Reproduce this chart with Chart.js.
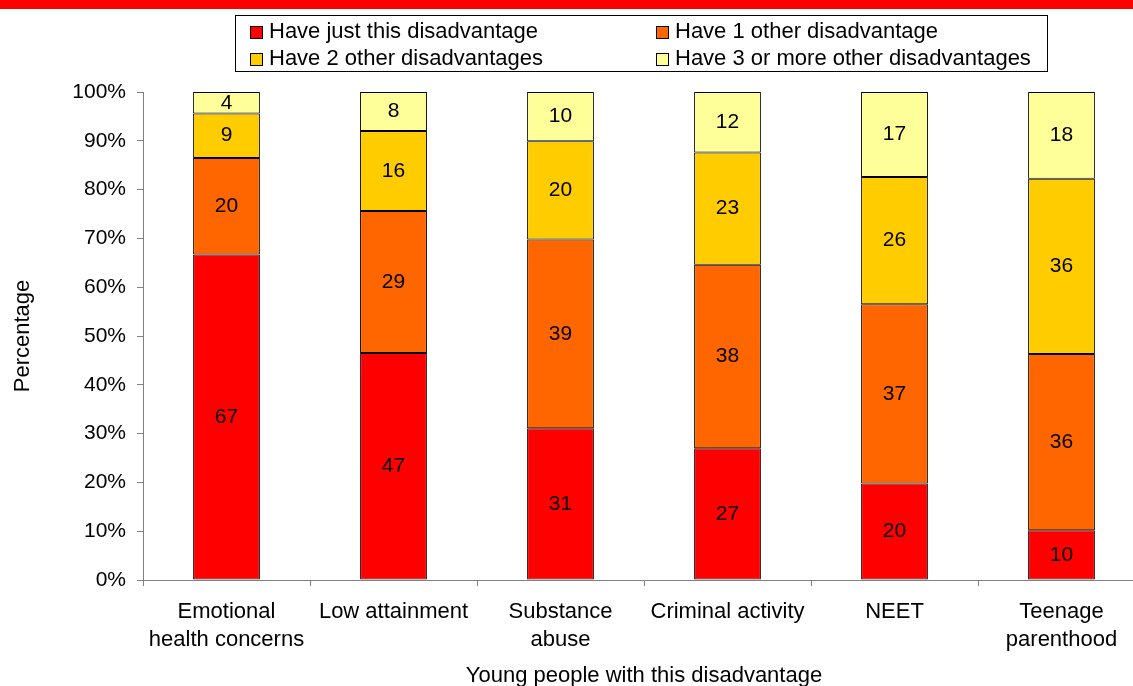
<!DOCTYPE html>
<html>
<head>
<meta charset="utf-8">
<script src="https://cdn.jsdelivr.net/npm/chart.js@4/dist/chart.umd.min.js"></script>
<style>
  html, body { margin: 0; padding: 0; background: #fff; overflow: hidden; width: 1133px; height: 686px; }
  #stripe { position: absolute; left: 0; top: 0; width: 1133px; height: 9px; background: #ff0000; }
  #wrap { position: absolute; left: 0; top: 0; }
  #legend { position: absolute; left: 235px; top: 15px; width: 813px; height: 57px; box-sizing: border-box;
            border: 1px solid #000; font-family: 'Liberation Sans', Arial, sans-serif; font-size: 22px; color: #000; }
  .item { position: absolute; white-space: nowrap; line-height: 26px; }
  .swatch { display: inline-block; width: 11px; height: 11px; border: 1px solid #000; vertical-align: -1px; margin-right: 6px; }
</style>
</head>
<body>
<div id="stripe"></div>
<div id="wrap"><canvas id="chart" width="1150" height="700"></canvas></div>
<div id="legend"></div>
<script>
const categories = [['Emotional', 'health concerns'], 'Low attainment', ['Substance', 'abuse'], 'Criminal activity', 'NEET', ['Teenage', 'parenthood']];
const seriesNames = ['Have just this disadvantage', 'Have 1 other disadvantage', 'Have 2 other disadvantages', 'Have 3 or more other disadvantages'];
// segment sizes; labels show them rounded
const justThis = [66.7, 46.5, 31.1, 27.0, 19.8, 10.2];
const oneOther = [19.8, 29.1, 38.7, 37.6, 36.7, 36.1];
const twoOther = [9.1, 16.4, 20.1, 23.0, 26.1, 35.9];
const threeOrMore = [4.4, 8.0, 10.1, 12.4, 17.4, 17.8];
const yTicks = [0, 10, 20, 30, 40, 50, 60, 70, 80, 90, 100];
const colours = ['#ff0000', '#ff6600', '#ffcc00', '#ffff99'];

const FONT = "'Liberation Sans', Arial, sans-serif";
const seriesValues = [justThis, oneOther, twoOther, threeOrMore];

// HTML legend, two columns
const legendEl = document.getElementById('legend');
const legendPos = [[14, 2], [420, 2], [14, 29], [420, 29]];
seriesNames.forEach((name, i) => {
    const d = document.createElement('div');
    d.className = 'item';
    d.style.left = legendPos[i][0] + 'px';
    d.style.top = legendPos[i][1] + 'px';
    d.innerHTML = '<span class="swatch" style="background:' + colours[i] + '"></span>' + name;
    legendEl.appendChild(d);
});

// value labels inside the stacked segments
const valueLabels = {
    id: 'valueLabels',
    afterDatasetsDraw(chart) {
        const ctx = chart.ctx;
        ctx.save();
        ctx.font = '21px ' + FONT;
        ctx.fillStyle = '#000';
        ctx.textAlign = 'center';
        ctx.textBaseline = 'middle';
        chart.data.datasets.forEach((ds, i) => {
            chart.getDatasetMeta(i).data.forEach((bar, j) => {
                ctx.fillText(String(Math.round(ds.data[j])), bar.x, (bar.y + bar.base) / 2);
            });
        });
        ctx.restore();
    }
};

new Chart(document.getElementById('chart'), {
    type: 'bar',
    data: {
        labels: categories,
        datasets: seriesNames.map((name, i) => ({
            label: name,
            data: seriesValues[i],
            backgroundColor: colours[i],
            borderColor: '#000',
            borderWidth: 1,
            borderSkipped: false,
            barPercentage: 0.4,
            categoryPercentage: 1
        }))
    },
    options: {
        responsive: false,
        animation: false,
        devicePixelRatio: 1,
        layout: { padding: { left: 0, top: 92, right: 5, bottom: 0 } },
        plugins: { legend: { display: false }, tooltip: { enabled: false } },
        scales: {
            x: {
                stacked: true,
                afterFit: s => { s.height = 120; },
                grid: { offset: true, drawOnChartArea: false, tickLength: 6, color: '#808080' },
                border: { color: '#808080' },
                ticks: { color: '#000', font: { family: FONT, size: 22, lineHeight: 1.27 }, padding: 12, maxRotation: 0, autoSkip: false },
                title: { display: true, text: 'Young people with this disadvantage', color: '#000',
                         font: { family: FONT, size: 22 }, padding: { top: 0, bottom: 11 } }
            },
            y: {
                stacked: true,
                min: 0,
                max: 100,
                afterFit: s => { s.width = 143; },
                afterBuildTicks: s => { s.ticks = yTicks.map(v => ({ value: v })); },
                grid: { drawOnChartArea: false, tickLength: 6, color: '#808080' },
                border: { color: '#808080' },
                ticks: { color: '#000', font: { family: FONT, size: 21 }, padding: 11, callback: v => v + '%' },
                title: { display: true, text: 'Percentage', color: '#000',
                         font: { family: FONT, size: 22 }, padding: { top: 10, bottom: 0 } }
            }
        }
    },
    plugins: [valueLabels]
});
</script>
</body>
</html>
